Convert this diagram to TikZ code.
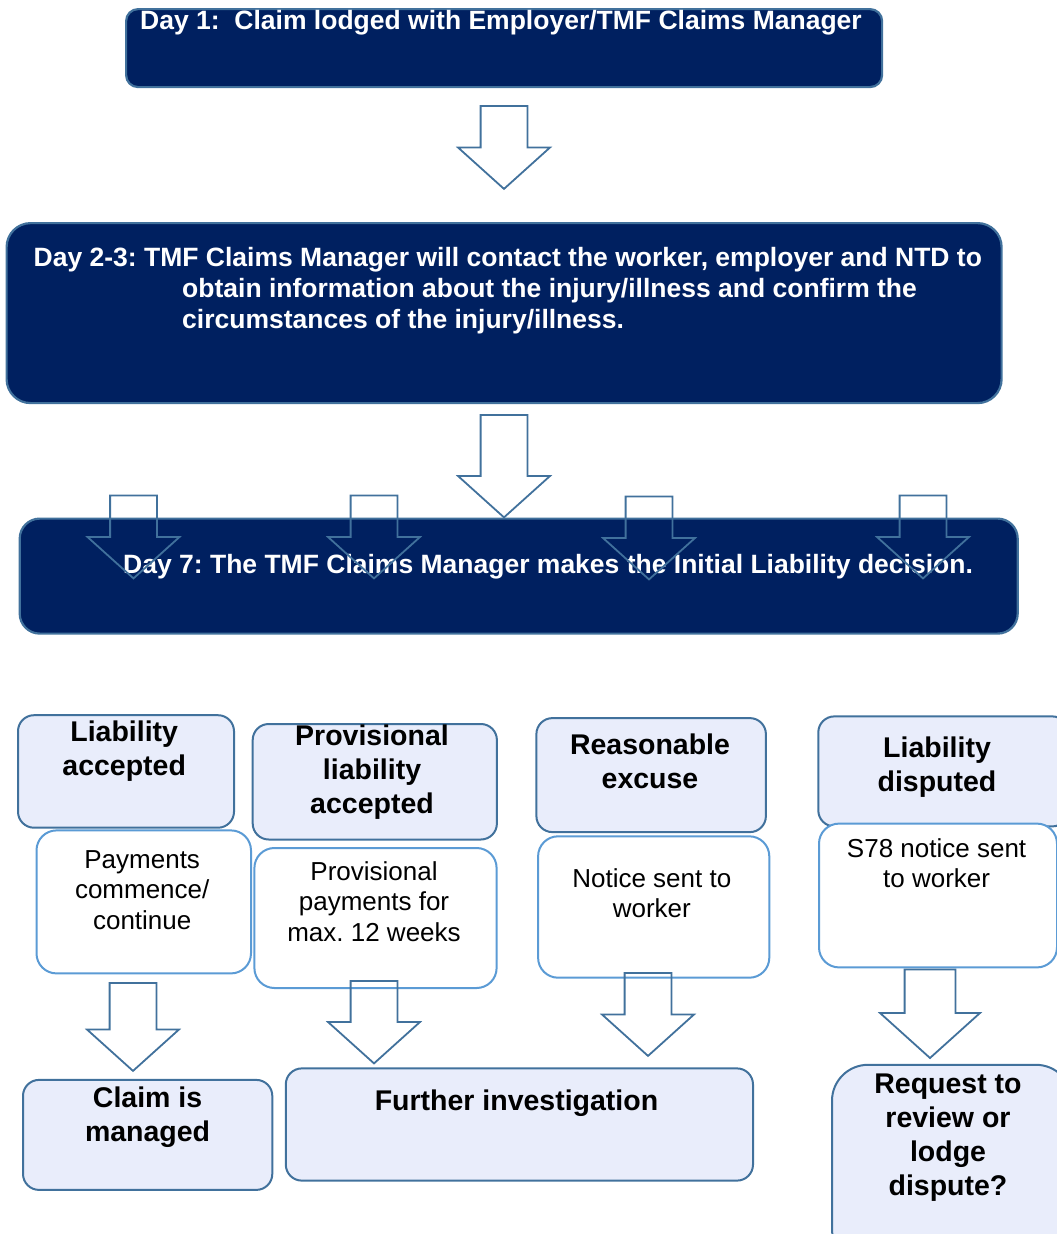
\documentclass[tikz,border=0pt]{standalone}
\usepackage{fontspec}
\setmainfont{Liberation Sans}
\usepackage{tikz}
\usetikzlibrary{shapes.arrows}
\definecolor{navy}{HTML}{002060}
\definecolor{steel}{HTML}{41719C}
\definecolor{skyline}{HTML}{5B9BD5}
\definecolor{lavender}{HTML}{E9EDFB}
\newcommand{\daysize}{\fontsize{26.5}{31}\selectfont}
\newcommand{\headsize}{\fontsize{28.5}{34}\selectfont}
\newcommand{\notesize}{\fontsize{26}{30.5}\selectfont}
\frenchspacing

\begin{document}
\begin{tikzpicture}[x=1pt,y=-1pt,
    daybox/.style={draw=steel,line width=2.2pt,fill=navy,anchor=north west,inner sep=0pt},
    headbox/.style={draw=steel,line width=2pt,fill=lavender,anchor=north west,inner sep=0pt,rounded corners=16pt},
    notebox/.style={draw=skyline,line width=2pt,fill=white,anchor=north west,inner sep=0pt,rounded corners=20pt},
    daytext/.style={text=white,font=\daysize\bfseries,inner sep=0pt},
    headtext/.style={font=\headsize\bfseries,align=center,inner sep=0pt,anchor=north},
    notetext/.style={font=\notesize,align=center,inner sep=0pt,anchor=north},
    downarrow/.style={single arrow,draw=steel,line width=1.8pt,shape border rotate=270,
      inner sep=22.5pt,minimum width=90pt,minimum height=83pt,
      single arrow head extend=22.5pt,single arrow tip angle=96,anchor=tail}]
  \useasboundingbox (0,0) rectangle (1057,1234);

  % day boxes
  \node[daybox,rounded corners=12pt,minimum width=756pt,minimum height=78pt] (day1) at (125,8) {};
  \node[daytext,anchor=base] (day1t) at (501,29.5) {Day 1:\ \ Claim lodged with Employer/TMF Claims Manager};
  \node[daybox,rounded corners=24pt,minimum width=995pt,minimum height=180pt] (day2) at (5.5,222) {};
  \node[daytext,anchor=north west,align=left] (day2t) at (33.5,246.8) {Day 2-3: TMF Claims Manager will contact the worker, employer and NTD to\\
    \hspace*{148.5pt}obtain information about the injury/illness and confirm the\\
    \hspace*{148.5pt}circumstances of the injury/illness.};
  \node[daybox,rounded corners=20pt,minimum width=998pt,minimum height=115pt] (day7) at (18.6,517.5) {};
  \node[daytext,anchor=base west] (day7t) at (123,573) {Day 7: The TMF Claims Manager makes the Initial Liability decision.};

  % decision boxes
  \node[headbox,minimum width=216pt,minimum height=112.5pt] (accept) at (17,714.2) {};
  \node[headtext] (acceptt) at (124.2,720.5) {Liability\\accepted};
  \node[notebox,minimum width=214.5pt,minimum height=143pt] (pay) at (35.5,829.4) {};
  \node[notetext] (payt) at (142.2,850.1) {Payments\\commence/\\continue};

  \node[headbox,minimum width=244.2pt,minimum height=115.5pt] (prov) at (251.7,723) {};
  \node[headtext] (provt) at (372,724.3) {Provisional\\liability\\accepted};
  \node[notebox,minimum width=242.2pt,minimum height=140pt] (provpay) at (253.4,847) {};
  \node[notetext] (provpayt) at (374,861.2) {Provisional\\payments for\\max. 12 weeks};

  \node[headbox,minimum width=229.5pt,minimum height=114pt] (excuse) at (535.4,717.1) {};
  \node[headtext] (excuset) at (650,733.6) {Reasonable\\excuse};
  \node[notebox,minimum width=231.2pt,minimum height=141.4pt] (notice) at (537.1,835.3) {};
  \node[notetext] (noticet) at (651.8,868.2) {Notice sent to\\worker};

  \node[headbox,minimum width=250pt,minimum height=110pt] (dispute) at (817.3,715.4) {};
  \node[headtext] (disputet) at (937,736.8) {Liability\\disputed};
  \node[notebox,minimum width=238pt,minimum height=143.8pt] (snotice) at (818,822.6) {};
  \node[notetext] (snoticet) at (936.6,838.4) {S78 notice sent\\to worker};

  % outcome boxes
  \node[headbox,minimum width=249.3pt,minimum height=110pt] (managed) at (22,1078.9) {};
  \node[headtext] (managedt) at (147.6,1086.5) {Claim is\\managed};
  \node[headbox,minimum width=467.2pt,minimum height=112.2pt] (further) at (284.8,1067.4) {};
  \node[headtext,anchor=base] (furthert) at (516.5,1110.6) {Further investigation};
  \node[headbox,rounded corners=36pt,minimum width=240pt,minimum height=200pt] (review) at (831,1063.8) {};
  \node[headtext] (reviewt) at (948,1073.3) {Request to\\review or\\lodge\\dispute?};

  % block arrows
  \node[downarrow] (a12) at (504,105) {};
  \node[downarrow,minimum height=102.5pt] (a27) at (504,414) {};
  \node[downarrow] (r1) at (133.5,494.5) {};
  \node[downarrow] (r2) at (374,494.5) {};
  \node[downarrow] (r3) at (649,495.5) {};
  \node[downarrow] (r4) at (923,494.5) {};
  \node[downarrow,minimum height=88pt] (b1) at (133,982) {};
  \node[downarrow,minimum height=82.5pt] (b2) at (374,980) {};
  \node[downarrow] (b3) at (648,972) {};
  \node[downarrow,minimum height=88.5pt,minimum width=98pt,inner sep=24.5pt,
    single arrow head extend=24.5pt] (b4) at (930,968.6) {};
\end{tikzpicture}
\end{document}
